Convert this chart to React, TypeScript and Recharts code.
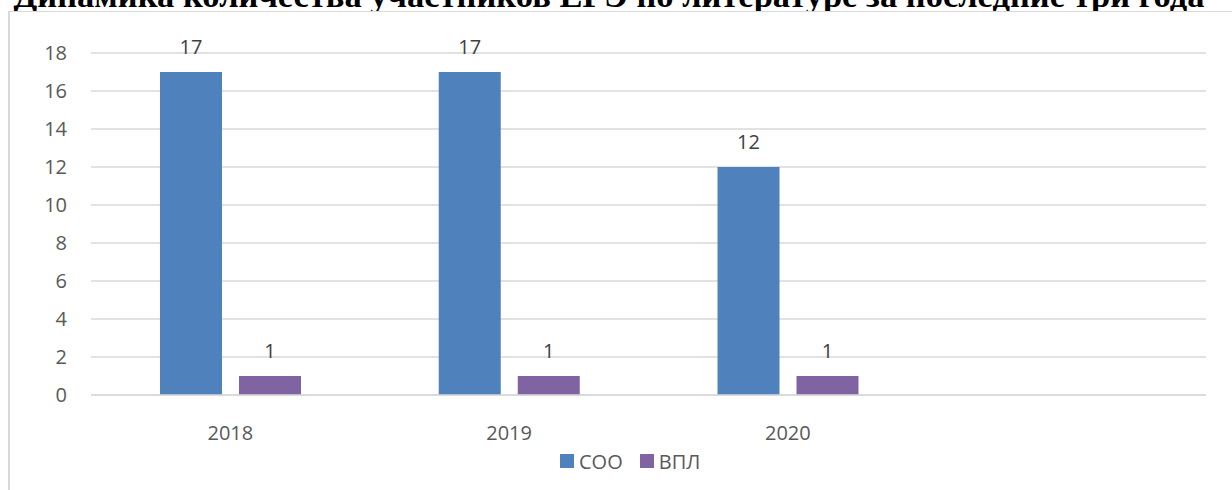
import React from 'react';
import { BarChart, Bar, XAxis, YAxis, CartesianGrid, Legend, LabelList } from 'recharts';

// years of the exam, the last slot is an empty category as in the source chart
const years = ['2018', '2019', '2020', ''];
const sooValues = [17, 17, 12, null];
const vplValues = [1, 1, 1, null];
const yTicks = [0, 2, 4, 6, 8, 10, 12, 14, 16, 18];

const seriesNames = { soo: 'СОО', vpl: 'ВПЛ' };
const colors = { soo: '#4f81bd', vpl: '#8064a2', grid: '#d9d9d9', text: '#595959', label: '#404040' };

const chartData = years.map((year, i) => ({
  year,
  soo: sooValues[i],
  vpl: vplValues[i],
}));

const FONT = '"Open Sans", "Noto Sans", sans-serif';

const LegendContent = () => (
  <div style={{ display: 'flex', alignItems: 'center', paddingLeft: 560, height: 28, fontFamily: FONT, fontSize: 20, color: colors.text }}>
    {(['soo', 'vpl'] as const).map((key) => (
      <div key={key} style={{ display: 'flex', alignItems: 'center', marginRight: 17 }}>
        <span style={{ display: 'inline-block', width: 14, height: 14, background: colors[key], marginRight: 5 }} />
        <span>{seriesNames[key]}</span>
      </div>
    ))}
  </div>
);

const App: React.FC = () => {
  return (
    <div style={{ position: 'absolute', left: 0, top: 0, width: 1232, height: 490, overflow: 'hidden', background: '#fff' }}>
      {/* title, its top is cut by the page and its bottom hidden by the chart area */}
      <div
        style={{
          position: 'absolute', left: -7, top: -22, width: 1232, textAlign: 'center',
          fontFamily: '"Liberation Serif", "Times New Roman", serif', fontWeight: 'bold',
          fontSize: 34.5, lineHeight: '34.5px', color: '#000', whiteSpace: 'nowrap',
        }}
      >
        Динамика количества участников ЕГЭ по литературе за последние три года
      </div>
      {/* frame of the chart area, white so it covers the title below the line */}
      <div style={{ position: 'absolute', left: 8, top: 11, width: 1400, height: 600, background: '#fff', borderLeft: `2px solid ${colors.grid}`, borderTop: `1px solid ${colors.grid}` }} />
      <div style={{ position: 'absolute', left: 0, top: 0 }}>
        <BarChart
          width={1232}
          height={490}
          data={chartData}
          margin={{ top: 53, right: 26, left: 31, bottom: 37 }}
          barSize={62}
          barGap={17}
        >
          <CartesianGrid vertical={false} stroke={colors.grid} strokeWidth={1.3} />
          <XAxis
            dataKey="year"
            tickLine={false}
            tickSize={0}
            tickMargin={31}
            axisLine={{ stroke: colors.grid, strokeWidth: 1.3 }}
            tick={{ fill: colors.text, fontSize: 20, fontFamily: FONT }}
            interval={0}
          />
          <YAxis
            width={60}
            domain={[0, 18]}
            ticks={yTicks}
            tickLine={false}
            axisLine={false}
            tickSize={0}
            tickMargin={24}
            tick={{ fill: colors.text, fontSize: 20, fontFamily: FONT }}
          />
          <Legend content={<LegendContent />} wrapperStyle={{ position: 'absolute', top: 447, left: 0, width: 1232 }} />
          <Bar dataKey="soo" name={seriesNames.soo} fill={colors.soo} isAnimationActive={false}>
            <LabelList dataKey="soo" position="top" offset={18} fill={colors.label} fontSize={20} fontFamily={FONT} />
          </Bar>
          <Bar dataKey="vpl" name={seriesNames.vpl} fill={colors.vpl} isAnimationActive={false}>
            <LabelList dataKey="vpl" position="top" offset={18} fill={colors.label} fontSize={20} fontFamily={FONT} />
          </Bar>
        </BarChart>
      </div>
    </div>
  );
};

export default App;
